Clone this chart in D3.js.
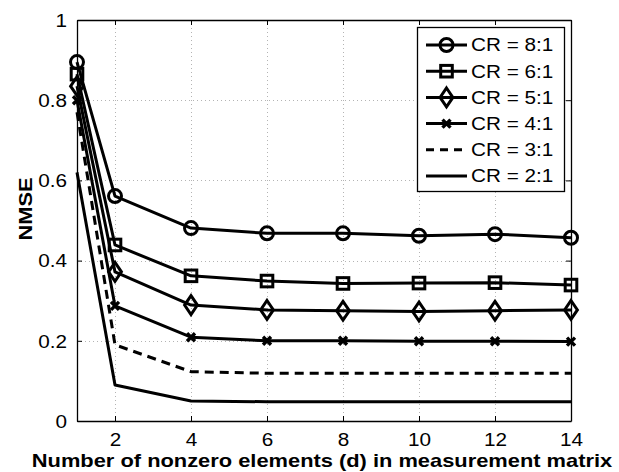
<!DOCTYPE html>
<html>
<head>
<meta charset="utf-8">
<script src="https://cdn.jsdelivr.net/npm/d3@7"></script>
<style>
  body { margin: 0; background: #fff; }
  text { font-family: "Liberation Sans", Arial, sans-serif; }
</style>
</head>
<body>
<svg id="chart" width="619" height="472"></svg>
<script>
// data
const dValues = [1, 2, 4, 6, 8, 10, 12, 14]
const cr8 = [0.895, 0.561, 0.481, 0.468, 0.468, 0.462, 0.466, 0.457]
const cr6 = [0.865, 0.439, 0.362, 0.349, 0.343, 0.344, 0.345, 0.339]
const cr5 = [0.835, 0.372, 0.289, 0.277, 0.275, 0.273, 0.275, 0.277]
const cr4 = [0.800, 0.287, 0.209, 0.200, 0.200, 0.199, 0.199, 0.198]
const cr3 = [0.770, 0.190, 0.123, 0.119, 0.119, 0.119, 0.119, 0.119]
const cr2 = [0.620, 0.090, 0.050, 0.048, 0.048, 0.048, 0.048, 0.048]
const xTicks = [2, 4, 6, 8, 10, 12, 14]
const yTicks = [0, 0.2, 0.4, 0.6, 0.8, 1]
const seriesNames = ['CR = 8:1', 'CR = 6:1', 'CR = 5:1', 'CR = 4:1', 'CR = 3:1', 'CR = 2:1']

const series = [
  { name: seriesNames[0], values: cr8, marker: 'circle', dash: null },
  { name: seriesNames[1], values: cr6, marker: 'square', dash: null },
  { name: seriesNames[2], values: cr5, marker: 'diamond', dash: null },
  { name: seriesNames[3], values: cr4, marker: 'x', dash: null },
  { name: seriesNames[4], values: cr3, marker: null, dash: '9,6' },
  { name: seriesNames[5], values: cr2, marker: null, dash: null },
]

const plot = { left: 77, right: 571, top: 20, bottom: 421 }

const svg = d3.select('#chart')

const x = d3.scaleLinear().domain([1, 14]).range([plot.left, plot.right])
const y = d3.scaleLinear().domain([0, 1]).range([plot.bottom, plot.top])

// grid
const grid = svg.append('g')
  .attr('stroke', '#b4b4b4')
  .attr('stroke-width', 1)
  .attr('stroke-dasharray', '1,3')
grid.selectAll('line.gx').data(xTicks).join('line')
  .attr('x1', d => Math.round(x(d)) + 0.5).attr('x2', d => Math.round(x(d)) + 0.5)
  .attr('y1', plot.top).attr('y2', plot.bottom)
grid.selectAll('line.gy').data(yTicks.slice(1, -1)).join('line')
  .attr('y1', d => Math.round(y(d)) + 0.5).attr('y2', d => Math.round(y(d)) + 0.5)
  .attr('x1', plot.left).attr('x2', plot.right)

// axes, ticks inward, mirrored on top and right
const tickFont = '18px'
const bottomAxis = d3.axisBottom(x).tickValues(xTicks).tickSizeInner(-5).tickSizeOuter(0).tickPadding(12)
const leftAxis = d3.axisLeft(y).tickValues(yTicks).tickSizeInner(-5).tickSizeOuter(0).tickPadding(10)
  .tickFormat(d => d === 0 || d === 1 ? String(d) : d3.format('.1f')(d))

svg.append('g').attr('transform', `translate(0,${plot.bottom})`).call(bottomAxis)
  .call(g => g.selectAll('text').attr('font-size', tickFont).attr('fill', '#000'))
svg.append('g').attr('transform', `translate(${plot.left},0)`).call(leftAxis)
  .call(g => g.selectAll('text').attr('font-size', tickFont).attr('fill', '#000').attr('dy', '0.35em'))
svg.append('g').attr('transform', `translate(0,${plot.top})`)
  .call(d3.axisTop(x).tickValues(xTicks).tickSizeInner(-5).tickSizeOuter(0).tickFormat(''))
svg.append('g').attr('transform', `translate(${plot.right},0)`)
  .call(d3.axisRight(y).tickValues(yTicks).tickSizeInner(-5).tickSizeOuter(0).tickFormat(''))
svg.selectAll('.domain').attr('stroke', '#000').attr('stroke-width', 1.3)
svg.selectAll('.tick line').attr('stroke', '#000')

// axis titles
svg.append('text')
  .attr('x', 322).attr('y', 467)
  .attr('text-anchor', 'middle')
  .attr('font-size', '19px').attr('font-weight', 'bold')
  .text('Number of nonzero elements (d) in measurement matrix')
svg.append('text')
  .attr('transform', 'translate(32,209) rotate(-90)')
  .attr('text-anchor', 'middle')
  .attr('font-size', '19px').attr('font-weight', 'bold')
  .text('NMSE')

function drawMarker(g, type, cx, cy) {
  const m = g.append('g').attr('fill', 'none').attr('stroke', '#000').attr('stroke-width', 3)
  if (type === 'circle') {
    m.append('circle').attr('cx', cx).attr('cy', cy).attr('r', 6.5)
  } else if (type === 'square') {
    m.append('rect').attr('x', cx - 5.8).attr('y', cy - 5.8).attr('width', 11.6).attr('height', 11.6)
  } else if (type === 'diamond') {
    m.append('path').attr('d', `M${cx},${cy - 9.4}L${cx + 6.4},${cy}L${cx},${cy + 9.4}L${cx - 6.4},${cy}Z`)
  } else if (type === 'x') {
    m.attr('stroke-width', 3.4)
    m.append('path').attr('d', `M${cx - 4},${cy - 4}L${cx + 4},${cy + 4}M${cx - 4},${cy + 4}L${cx + 4},${cy - 4}`)
  }
}

// lines
const line = d3.line().x((d, i) => x(dValues[i])).y(d => y(d))
const lines = svg.append('g')
series.forEach(s => {
  lines.append('path')
    .datum(s.values)
    .attr('fill', 'none')
    .attr('stroke', '#000')
    .attr('stroke-width', 3)
    .attr('stroke-linejoin', 'round')
    .attr('stroke-dasharray', s.dash)
    .attr('d', line)
  if (s.marker) {
    s.values.forEach((v, i) => drawMarker(lines, s.marker, x(dValues[i]), y(v)))
  }
})

// legend
const legend = svg.append('g')
legend.append('rect')
  .attr('x', 417.5).attr('y', 27.5).attr('width', 147).attr('height', 164)
  .attr('fill', '#fff').attr('stroke', '#000').attr('stroke-width', 1.3)
const rowY = d3.scalePoint().domain(seriesNames).range([45, 176])
series.forEach(s => {
  const ry = rowY(s.name)
  legend.append('line')
    .attr('x1', 426).attr('x2', 467).attr('y1', ry).attr('y2', ry)
    .attr('stroke', '#000').attr('stroke-width', 3)
    .attr('stroke-dasharray', s.dash ? '8,6' : null)
  if (s.marker) drawMarker(legend, s.marker, 446.5, ry)
  legend.append('text')
    .attr('x', 471).attr('y', ry).attr('dy', '0.35em')
    .attr('font-size', '18px')
    .text(s.name)
})

// the reference font renders wider than Liberation Sans: stretch every label a bit
svg.selectAll('text').each(function () {
  const w = this.getComputedTextLength()
  d3.select(this).attr('textLength', w * 1.15).attr('lengthAdjust', 'spacingAndGlyphs')
})
</script>
</body>
</html>
